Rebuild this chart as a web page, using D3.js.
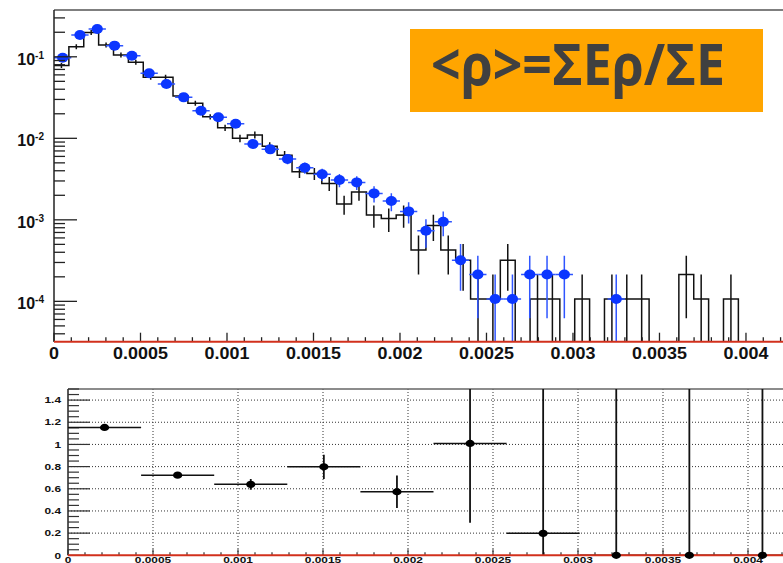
<!DOCTYPE html>
<html><head><meta charset="utf-8">
<script src="https://cdn.jsdelivr.net/npm/d3@7"></script>
<style>body{margin:0;background:#fff;overflow:hidden;} svg{display:block;}</style>
</head><body>
<svg id="c" width="783" height="563"></svg>
<script>
// ---------------- data ----------------
// black histogram (normalised), bin width 0.000086 starting at 0
const blackBinWidth = 0.000086;
const blackValues = [0.078, 0.133, 0.198, 0.140, 0.105, 0.086, 0.056, 0.056, 0.033, 0.027,
  0.0184, 0.0135, 0.0100, 0.0110, 0.0080, 0.0062, 0.0039, 0.0037, 0.0028, 0.00156,
  0.0022, 0.00115, 0.00104, 0.00115, 0.000427, 0.00085, 0.000427, 0.00032, 0.000107, 0.000107,
  0.00032, 0, 0.000107, 0.000107, 0, 0.000107, 0, 0.000107, 0.000107, 0.000107,
  0, 0, 0.000213, 0.000107, 0, 0.000107, 0, 0, 0];
// blue points (normalised), bin width 0.0001 starting at 0
const blueBinWidth = 0.0001;
const blueValues = [0.0975, 0.185, 0.219, 0.137, 0.103, 0.0628, 0.0464, 0.0318, 0.0218, 0.0181,
  0.0151, 0.00851, 0.00732, 0.00557, 0.00436, 0.00362, 0.00308, 0.00288, 0.00211, 0.0017,
  0.00127, 0.000735, 0.000948, 0.00032, 0.000213, 0.000107, 0.000107, 0.000213, 0.000213, 0.000213,
  0, 0, 0.000107, 0, 0, 0, 0, 0, 0, 0, 0, 0];
const countUnit = 1.067e-4; // normalised value of one entry
const topXTicks = [0, 0.0005, 0.001, 0.0015, 0.002, 0.0025, 0.003, 0.0035, 0.004];
const topXLabels = ["0", "0.0005", "0.001", "0.0015", "0.002", "0.0025", "0.003", "0.0035", "0.004"];
const topYExponents = [-1, -2, -3, -4];

// ratio panel
const ratioEdges = [0, 0.00043, 0.00086, 0.00129, 0.00172, 0.00215, 0.00258, 0.00301, 0.00344, 0.00387, 0.0043];
const ratioValues = [1.153, 0.723, 0.64, 0.798, 0.573, 1.009, 0.198, 0, 0, 0];
const ratioErrors = [0.012, 0.012, 0.048, 0.11, 0.147, 0.715, 1.5, 2, 2, 2];
const ratioXTicks = [0, 0.0005, 0.001, 0.0015, 0.002, 0.0025, 0.003, 0.0035, 0.004];
const ratioXLabels = ["0", "0.0005", "0.001", "0.0015", "0.002", "0.0025", "0.003", "0.0035", "0.004"];
const ratioYTicks = [0, 0.2, 0.4, 0.6, 0.8, 1, 1.2, 1.4];
const ratioYLabels = ["0", "0.2", "0.4", "0.6", "0.8", "1", "1.2", "1.4"];

const formulaText = "<ρ>=ΣEρ/ΣE";

// ---------------- drawing ----------------
const svg = d3.select("#c");
const FONT = "'Liberation Sans', Arial, Helvetica, sans-serif";

// ===== top panel =====
const T = {left: 54, right: 783, top: 10, bottom: 341.7};
const xT = d3.scaleLinear().domain([0, 0.004214]).range([T.left, T.right]);
const yT = d3.scaleLog().domain([3.2e-5, 0.375]).range([T.bottom, T.top]);
const yv = v => v > 0 ? Math.max(T.top, Math.min(T.bottom, yT(v))) : T.bottom;

const gTop = svg.append("g");
svg.append("defs").append("clipPath").attr("id", "clipT")
  .append("rect").attr("x", T.left).attr("y", T.top).attr("width", T.right - T.left).attr("height", T.bottom - T.top);

const plotT = gTop.append("g").attr("clip-path", "url(#clipT)");

// black step histogram
let p = d3.path();
blackValues.forEach((v, i) => {
  const x0 = xT(i * blackBinWidth), x1 = xT((i + 1) * blackBinWidth);
  if (i === 0) p.moveTo(x0, yv(v)); else p.lineTo(x0, yv(v));
  p.lineTo(x1, yv(v));
});
plotT.append("path").attr("d", p.toString()).attr("fill", "none")
  .attr("stroke", "#111").attr("stroke-width", 1.5);

// black error bars
blackValues.forEach((v, i) => {
  if (v <= 0) return;
  const n = v / countUnit, e = Math.sqrt(n) * countUnit;
  const xc = xT((i + 0.5) * blackBinWidth);
  let y1 = yv(v + e), y2 = (v - e) > 0 ? yv(v - e) : T.bottom;
  const yc = yv(v);
  y1 = Math.min(y1, yc - 2.5); y2 = Math.max(y2, yc + 2.5);
  plotT.append("line").attr("x1", xc).attr("x2", xc).attr("y1", y1).attr("y2", y2)
    .attr("stroke", "#111").attr("stroke-width", 1.5);
});

// blue points with errors
const blue = "#0b36ff";
blueValues.forEach((v, i) => {
  if (v <= 0) return;
  const n = v / countUnit, e = Math.sqrt(n) * countUnit;
  const xc = xT((i + 0.5) * blueBinWidth);
  const yc = yv(v);
  plotT.append("line").attr("x1", xT(i * blueBinWidth)).attr("x2", xT((i + 1) * blueBinWidth))
    .attr("y1", yc).attr("y2", yc).attr("stroke", "#2f55ff").attr("stroke-width", 1.5);
  const y1 = yv(v + e), y2 = (v - e) > 0 ? yv(v - e) : T.bottom;
  plotT.append("line").attr("x1", xc).attr("x2", xc).attr("y1", y1).attr("y2", y2)
    .attr("stroke", "#2f55ff").attr("stroke-width", 1.5);
});
blueValues.forEach((v, i) => {
  if (v <= 0) return;
  plotT.append("ellipse").attr("cx", xT((i + 0.5) * blueBinWidth)).attr("cy", yv(v))
    .attr("rx", 5.6).attr("ry", 5).attr("fill", blue);
});

// frame
gTop.append("line").attr("x1", T.left).attr("x2", T.right).attr("y1", T.top).attr("y2", T.top)
  .attr("stroke", "#555").attr("stroke-width", 1.5);
gTop.append("line").attr("x1", T.left).attr("x2", T.left).attr("y1", T.top).attr("y2", T.bottom)
  .attr("stroke", "#222").attr("stroke-width", 1.5);

// y ticks (log)
for (let ex = -5; ex <= 0; ex++) {
  for (let m = 1; m <= 9; m++) {
    const v = m * Math.pow(10, ex);
    const yy = yT(v);
    if (yy < T.top || yy > T.bottom - 1) continue;
    gTop.append("line").attr("x1", T.left).attr("x2", T.left + (m === 1 ? 23 : 11))
      .attr("y1", yy).attr("y2", yy).attr("stroke", "#222").attr("stroke-width", 1.3);
  }
}
topYExponents.forEach(ex => {
  const yy = yT(Math.pow(10, ex));
  const t = gTop.append("text").attr("x", 44).attr("y", yy + 8)
    .attr("text-anchor", "end").attr("font-family", FONT).attr("font-weight", "bold")
    .attr("font-size", 16).attr("fill", "#111");
  t.append("tspan").text("10");
  t.append("tspan").attr("dy", -6).attr("font-size", 10).text(String(ex));
});

// x ticks
for (let k = 0; k <= 42; k++) {
  const v = k * 0.0001;
  const xx = xT(v);
  if (xx > T.right) continue;
  const major = k % 5 === 0;
  gTop.append("line").attr("x1", xx).attr("x2", xx).attr("y1", T.bottom).attr("y2", T.bottom - (major ? 9 : 4.5))
    .attr("stroke", "#222").attr("stroke-width", 1.3);
}
gTop.append("line").attr("x1", T.left).attr("x2", T.right).attr("y1", T.bottom).attr("y2", T.bottom)
  .attr("stroke", "#d2301c").attr("stroke-width", 2);
topXTicks.forEach((v, i) => {
  gTop.append("text").attr("transform", `translate(${xT(v)},358.5) scale(1.12,1)`).attr("text-anchor", "middle")
    .attr("font-family", FONT).attr("font-weight", "bold").attr("font-size", 16).attr("fill", "#111")
    .text(topXLabels[i]);
});

// formula box
svg.append("rect").attr("x", 410).attr("y", 29).attr("width", 353).attr("height", 83).attr("fill", "#FFA500");
const ft = svg.append("text").attr("x", 431).attr("y", 85)
  .attr("font-family", "'Open Sans', 'Noto Sans', sans-serif").attr("font-weight", "bold")
  .attr("font-size", 58).attr("fill", "#404040").text(formulaText);
const w = ft.node().getComputedTextLength();
if (w > 0) ft.attr("textLength", 294).attr("lengthAdjust", "spacingAndGlyphs");

// ===== bottom (ratio) panel =====
const B = {left: 68, right: 783, top: 389, bottom: 555.3};
const xB = d3.scaleLinear().domain([0, 0.0042]).range([68, 782]);
const yB = d3.scaleLinear().domain([0, 1.5]).range([B.bottom, B.top]);
const gB = svg.append("g");
svg.select("defs").append("clipPath").attr("id", "clipB")
  .append("rect").attr("x", B.left).attr("y", B.top).attr("width", B.right - B.left).attr("height", B.bottom - B.top);

// grid
ratioXTicks.slice(1).forEach(v => {
  gB.append("line").attr("x1", xB(v)).attr("x2", xB(v)).attr("y1", B.top).attr("y2", B.bottom)
    .attr("stroke", "#333").attr("stroke-width", 1).attr("stroke-dasharray", "1,2");
});
ratioYTicks.slice(1).forEach(v => {
  gB.append("line").attr("x1", B.left).attr("x2", B.right).attr("y1", yB(v)).attr("y2", yB(v))
    .attr("stroke", "#333").attr("stroke-width", 1).attr("stroke-dasharray", "1,2");
});

// frame
gB.append("line").attr("x1", B.left).attr("x2", B.right).attr("y1", B.top).attr("y2", B.top)
  .attr("stroke", "#666").attr("stroke-width", 1.5);
gB.append("line").attr("x1", B.left).attr("x2", B.left).attr("y1", B.top).attr("y2", B.bottom)
  .attr("stroke", "#222").attr("stroke-width", 1.5);

// y ticks
for (let k = 0; k <= 30; k++) {
  const v = k * 0.05;
  const yy = yB(v);
  if (yy < B.top) continue;
  const major = k % 4 === 0;
  gB.append("line").attr("x1", B.left).attr("x2", B.left + (major ? 22 : 11))
    .attr("y1", yy).attr("y2", yy).attr("stroke", "#333").attr("stroke-width", 1.2);
}
ratioYTicks.forEach((v, i) => {
  gB.append("text").attr("transform", `translate(61,${yB(v) + 3.2}) scale(1.4,1)`)
    .attr("text-anchor", "end").attr("font-family", FONT).attr("font-weight", "bold")
    .attr("font-size", 8.5).attr("fill", "#111").text(ratioYLabels[i]);
});
// x ticks
for (let k = 0; k <= 42; k++) {
  const v = k * 0.0001;
  const xx = xB(v);
  const major = k % 5 === 0;
  gB.append("line").attr("x1", xx).attr("x2", xx).attr("y1", B.bottom).attr("y2", B.bottom - (major ? 6 : 3))
    .attr("stroke", "#333").attr("stroke-width", 1.2);
}
ratioXTicks.forEach((v, i) => {
  gB.append("text").attr("transform", `translate(${xB(v)},562.5) scale(1.4,1)`)
    .attr("text-anchor", "middle").attr("font-family", FONT).attr("font-weight", "bold")
    .attr("font-size", 8.5).attr("fill", "#111").text(ratioXLabels[i]);
});

// points
const plotB = gB.append("g").attr("clip-path", "url(#clipB)");
ratioValues.forEach((v, i) => {
  const x0 = xB(ratioEdges[i]), x1 = xB(ratioEdges[i + 1]), xc = (x0 + x1) / 2;
  const e = ratioErrors[i];
  plotB.append("line").attr("x1", x0).attr("x2", x1).attr("y1", yB(v)).attr("y2", yB(v))
    .attr("stroke", "#111").attr("stroke-width", 1.5);
  plotB.append("line").attr("x1", xc).attr("x2", xc)
    .attr("y1", yB(Math.min(1.5, v + e))).attr("y2", yB(Math.max(0, v - e)))
    .attr("stroke", "#111").attr("stroke-width", 1.8);
});
gB.append("line").attr("x1", B.left).attr("x2", B.right).attr("y1", B.bottom).attr("y2", B.bottom)
  .attr("stroke", "#d2301c").attr("stroke-width", 2);
ratioValues.forEach((v, i) => {
  const xc = xB((ratioEdges[i] + ratioEdges[i + 1]) / 2);
  gB.append("ellipse").attr("cx", xc).attr("cy", yB(v)).attr("rx", 4.6).attr("ry", 3.6).attr("fill", "#000");
});
</script>
</body></html>
